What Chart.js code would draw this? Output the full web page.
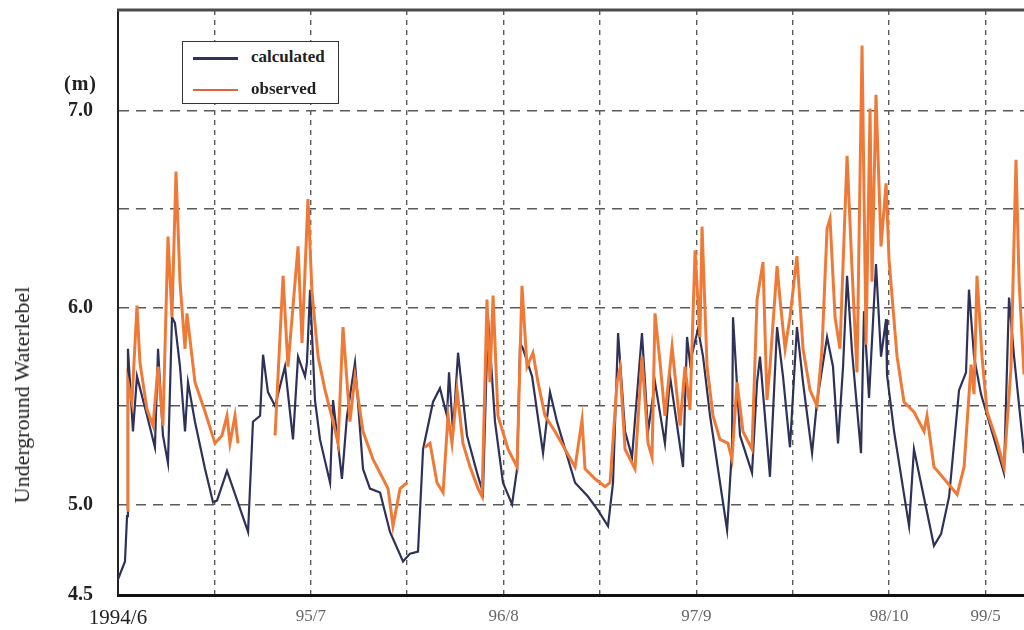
<!DOCTYPE html>
<html>
<head>
<meta charset="utf-8">
<script src="https://cdn.jsdelivr.net/npm/chart.js@4.4.1/dist/chart.umd.min.js"></script>
<style>
  body { margin: 0; background: #fff; }
  #wrap { position: relative; width: 1024px; height: 630px; }
  .over { position: absolute; font-family: 'Liberation Serif', 'DejaVu Serif', serif; color: #222; }
  #legend { left: 182px; top: 41px; width: 155px; height: 61px; border: 1.5px solid #333; background: #fff; }
  #legend .row { position: absolute; left: 0; height: 20px; width: 100%; }
  #legend .sample { position: absolute; left: 10px; top: 9px; width: 45px; }
  #legend .txt { position: absolute; left: 68px; top: -1px; font-size: 17px; font-weight: bold; }
  #unit { left: 64px; top: 72px; font-size: 20px; font-weight: bold; letter-spacing: 1px; }
  #ytitle { left: 22px; top: 395px; font-size: 22px; white-space: nowrap;
            transform: translate(-50%, -50%) rotate(-90deg); }
</style>
</head>
<body>
<div id="wrap">
  <canvas id="chart"></canvas>
  <div class="over" id="legend">
    <div class="row" style="top:6px"><div class="sample" style="border-top:3px solid #2e3158"></div><span class="txt">calculated</span></div>
    <div class="row" style="top:38px"><div class="sample" style="border-top:2px solid #e8603c"></div><span class="txt">observed</span></div>
  </div>
  <div class="over" id="unit">(m)</div>
  <div class="over" id="ytitle">Underground Waterlebel</div>
</div>
<script>
// Achse: Monate seit 1994/6
const xTickMonths = [0, 6.5, 13, 19.5, 26, 32.5, 39, 45.5, 52, 58.5];
const xTickLabels = ['1994/6', '', '95/7', '', '96/8', '', '97/9', '', '98/10', '99/5'];
const yTickValues = [4.54, 5.0, 5.5, 6.0, 6.5, 7.0];
const yTickLabels = ['4.5', '5.0', '', '6.0', '', '7.0'];
const xMin = 0, xMax = 61.09;
const yMin = 4.54, yMax = 7.51;

// calculated
const calcMonths = [0, 0.47, 0.61, 0.67, 1.01, 1.28, 1.96, 2.49, 2.70, 3.03, 3.37, 3.64, 3.84, 4.18, 4.52, 4.72,
  5.19, 5.87, 6.41, 6.68, 7.35, 8.77, 9.10, 9.58, 9.78, 10.11, 10.59, 11.26, 11.80, 12.14, 12.61, 12.74,
  12.95, 13.28, 13.62, 14.30, 14.50, 15.10, 15.44, 15.98, 16.52, 16.99, 17.67, 18.34, 19.22, 19.69, 20.23,
  20.57, 21.24, 21.71, 22.18, 22.32, 22.59, 22.93, 23.53, 24.21, 24.61, 24.95, 25.42, 25.96, 26.57, 26.91,
  27.11, 27.31, 27.92, 28.66, 29.13, 29.60, 30.82, 31.69, 32.37, 33.04, 33.38, 33.72, 34.19, 34.66, 35.33,
  35.74, 36.21, 36.88, 37.22, 38.10, 38.37, 38.57, 39.11, 39.45, 39.92, 41.07, 41.40, 41.47, 41.94, 42.75,
  43.09, 43.29, 43.96, 44.44, 44.84, 45.31, 45.78, 46.19, 46.80, 47.13, 47.81, 48.21, 48.55, 48.89, 49.16,
  49.49, 50.10, 50.30, 50.64, 51.11, 51.45, 51.79, 51.85, 52.33, 53.34, 53.67, 55.02, 55.50, 56.04, 56.71,
  57.18, 57.38, 57.72, 58.19, 59.74, 60.08, 60.42, 61.09];
const calcLevels = [4.62, 4.71, 4.94, 5.79, 5.37, 5.65, 5.45, 5.29, 5.79, 5.35, 5.21, 5.95, 5.92, 5.70, 5.37, 5.62,
  5.42, 5.18, 5.01, 5.02, 5.17, 4.86, 5.42, 5.45, 5.76, 5.57, 5.50, 5.70, 5.33, 5.75, 5.65, 5.72,
  6.09, 5.53, 5.33, 5.11, 5.53, 5.13, 5.45, 5.72, 5.18, 5.08, 5.06, 4.86, 4.71, 4.75, 4.76,
  5.28, 5.52, 5.59, 5.45, 5.67, 5.37, 5.77, 5.35, 5.16, 5.06, 5.95, 5.42, 5.11, 5.00, 5.18,
  5.82, 5.79, 5.65, 5.26, 5.57, 5.42, 5.11, 5.04, 4.97, 4.89, 5.11, 5.87, 5.37, 5.24, 5.87,
  5.37, 5.62, 5.31, 5.65, 5.19, 5.85, 5.72, 5.89, 5.75, 5.45, 4.87, 5.28, 5.95, 5.35, 5.16,
  5.62, 5.75, 5.14, 5.90, 5.65, 5.29, 5.90, 5.62, 5.26, 5.52, 5.85, 5.70, 5.31, 5.70, 6.16,
  5.78, 5.26, 5.98, 5.54, 6.22, 5.75, 5.94, 5.66, 5.37, 4.89, 5.28, 4.79, 4.85, 5.04, 5.58,
  5.67, 6.09, 5.75, 5.56, 5.16, 6.05, 5.75, 5.26];

// observed (null = Lücke in der Messung)
const obsMonths = [0.61, 0.67, 0.94, 1.28, 1.48, 1.96, 2.36, 2.70, 3.03, 3.37, 3.64, 3.91, 4.18, 4.52, 4.65,
  5.19, 5.87, 6.54, 7.01, 7.35, 7.55, 7.89, 8.09, 9.30, 10.59, 11.13, 11.46, 12.14, 12.41, 12.81, 13.08,
  13.49, 13.96, 14.50, 14.84, 15.17, 15.64, 15.98, 16.52, 17.19, 17.87, 18.21, 18.54, 19.02, 19.49, 20.10,
  20.70, 21.04, 21.51, 21.92, 22.25, 22.52, 22.86, 23.26, 23.74, 24.28, 24.55, 24.88, 25.08, 25.29, 25.62,
  26.30, 26.91, 27.24, 27.58, 27.98, 28.32, 28.79, 29.47, 30.14, 30.82, 31.29, 31.49, 32.16, 32.84, 33.18,
  33.65, 33.85, 34.19, 34.86, 35.33, 35.74, 36.01, 36.21, 36.55, 36.88, 37.36, 37.90, 38.23, 38.57, 38.91,
  39.24, 39.38, 39.72, 40.12, 40.59, 41.13, 41.40, 41.74, 42.14, 42.75, 43.09, 43.49, 43.76, 43.96, 44.44,
  44.64, 44.98, 45.31, 45.78, 46.19, 46.66, 47.13, 47.47, 47.81, 48.01, 48.35, 48.68, 49.16, 49.49, 49.83,
  50.17, 50.44, 50.71, 50.84, 51.11, 51.45, 51.79, 51.99, 52.53, 53.00, 53.67, 54.35, 54.55, 55.02, 55.70,
  56.58, 57.05, 57.52, 57.72, 57.92, 58.26, 58.60, 59.27, 59.74, 60.21, 60.55, 60.76, 61.09];
const obsLevels = [4.97, 5.62, 5.52, 6.01, 5.72, 5.48, 5.40, 5.70, 5.40, 6.36, 5.95, 6.69, 6.13, 5.79, 5.97,
  5.62, 5.47, 5.31, 5.35, 5.45, 5.31, 5.45, 5.31, null, 5.35, 6.16, 5.70, 6.31, 5.82, 6.55, 6.08,
  5.75, 5.58, 5.42, 5.31, 5.90, 5.42, 5.65, 5.37, 5.23, 5.13, 5.08, 4.89, 5.08, 5.11, null,
  5.29, 5.31, 5.11, 5.06, 5.45, 5.31, 5.58, 5.31, 5.19, 5.08, 5.04, 6.04, 5.62, 6.06, 5.45,
  5.28, 5.19, 6.11, 5.70, 5.77, 5.62, 5.45, 5.37, 5.28, 5.19, 5.43, 5.18, 5.13, 5.09, 5.11,
  5.62, 5.69, 5.28, 5.18, 5.75, 5.31, 5.24, 5.97, 5.72, 5.45, 5.80, 5.40, 5.70, 5.48, 6.29,
  5.85, 6.41, 5.70, 5.45, 5.33, 5.31, 5.23, 5.62, 5.37, 5.28, 6.04, 6.23, 5.53, 5.70, 6.21,
  6.04, 5.79, 5.95, 6.26, 5.79, 5.58, 5.50, 5.79, 6.40, 6.45, 5.95, 5.79, 6.77, 6.20, 5.67,
  7.33, 5.81, 7.01, 6.13, 7.08, 6.31, 6.63, 6.24, 5.75, 5.52, 5.47, 5.37, 5.45, 5.19, 5.13,
  5.05, 5.19, 5.71, 5.56, 6.16, 5.75, 5.47, 5.32, 5.19, 5.69, 6.75, 6.13, 5.66];

const calcPoints = calcMonths.map((m, i) => ({ x: m, y: calcLevels[i] }));
const obsPoints = obsMonths.map((m, i) => ({ x: m, y: obsLevels[i] }));

// oberer Rahmen
const topFrame = {
    id: 'topFrame',
    afterDraw(chart) {
        const { ctx, chartArea } = chart;
        ctx.save();
        ctx.strokeStyle = '#4a4a4a';
        ctx.lineWidth = 3;
        ctx.beginPath();
        ctx.moveTo(chartArea.left - 1, chartArea.top);
        ctx.lineTo(chartArea.right, chartArea.top);
        ctx.stroke();
        ctx.restore();
    }
};

new Chart(document.getElementById('chart'), {
    type: 'line',
    data: {
        datasets: [
            {
                label: 'calculated',
                data: calcPoints,
                borderColor: '#2e3158',
                borderWidth: 2.2,
                pointRadius: 0,
                tension: 0,
                order: 1
            },
            {
                label: 'observed',
                data: obsPoints,
                borderColor: '#ef7a38',
                borderWidth: 3,
                pointRadius: 0,
                tension: 0,
                spanGaps: false,
                order: 0
            }
        ]
    },
    options: {
        responsive: true,
        maintainAspectRatio: false,
        animation: false,
        layout: { padding: { top: 10, right: 0, left: 0, bottom: 0 } },
        plugins: {
            legend: { display: false },
            tooltip: { enabled: false }
        },
        scales: {
            x: {
                type: 'linear',
                min: xMin,
                max: xMax,
                afterBuildTicks: axis => { axis.ticks = xTickMonths.map(v => ({ value: v })); },
                afterFit: axis => {
                    axis.height = 35;
                    axis.paddingLeft = 0;
                    axis.paddingRight = 0;
                },
                ticks: {
                    autoSkip: false,
                    maxRotation: 0,
                    padding: 11,
                    callback: (v, i) => xTickLabels[i],
                    color: ctx => ctx.index === 0 ? '#222' : '#666',
                    font: ctx => ctx.index === 0
                        ? { family: "'Liberation Serif', serif", size: 21 }
                        : { family: "'Liberation Serif', serif", size: 17 }
                },
                grid: {
                    drawTicks: false,
                    color: ctx => ctx.index === 0 ? 'rgba(0,0,0,0)' : '#5a5a5a',
                    lineWidth: 1.4
                },
                border: { display: true, color: '#111', width: 3, dash: [5, 5] }
            },
            y: {
                min: yMin,
                max: yMax,
                afterBuildTicks: axis => { axis.ticks = yTickValues.map(v => ({ value: v })); },
                afterFit: axis => {
                    axis.width = 118;
                    axis.paddingTop = 0;
                    axis.paddingBottom = 0;
                },
                ticks: {
                    padding: 25,
                    callback: (v, i) => yTickLabels[i],
                    color: '#222',
                    font: { family: "'Liberation Serif', serif", size: 20, weight: 'bold' }
                },
                grid: {
                    drawTicks: false,
                    color: ctx => ctx.index === 0 ? 'rgba(0,0,0,0)' : '#5a5a5a',
                    lineWidth: 1.4
                },
                border: { display: true, color: '#222', width: 2, dash: [10, 7] }
            }
        }
    },
    plugins: [topFrame]
});
</script>
</body>
</html>
